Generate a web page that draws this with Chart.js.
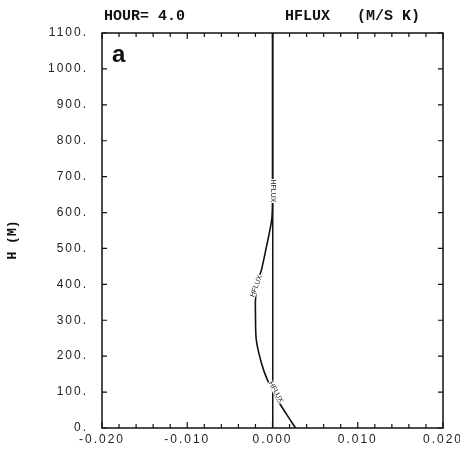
<!DOCTYPE html>
<html>
<head>
<meta charset="utf-8">
<script src="https://cdn.jsdelivr.net/npm/chart.js@4.4.1/dist/chart.umd.min.js"></script>
<style>
  html, body { margin: 0; padding: 0; background: #fff; }
  #wrap { width: 460px; height: 452px; position: relative; }
</style>
</head>
<body>
<div id="wrap"><canvas id="hflux"></canvas></div>
<script>
'use strict';
// profile of HFLUX against height
var heights = [0, 40, 78, 134, 181, 245, 320, 356, 404, 440, 500, 579, 627, 700, 800, 900, 1000, 1100];
var hflux = [0.0027, 0.0016, 0.0006, -0.0006, -0.0013, -0.0019, -0.0020, -0.0020, -0.0018, -0.0013, -0.00075, -0.0001, 0, 0, 0, 0, 0, 0];
var xTicks = [-0.020, -0.010, 0.000, 0.010, 0.020];
var yTicks = [0, 100, 200, 300, 400, 500, 600, 700, 800, 900, 1000, 1100];

var points = [];
for (var i = 0; i < heights.length; i++) {
    points.push({ x: hflux[i], y: heights[i] });
}

var frame = {
    id: 'frame',
    beforeDraw: function (chart) {
        chart.ctx.letterSpacing = '2px';
    },
    afterDatasetsDraw: function (chart) {
        var ctx = chart.ctx, a = chart.chartArea;
        var xs = chart.scales.x, ys = chart.scales.y;
        ctx.save();
        ctx.letterSpacing = '0px';
        ctx.strokeStyle = '#111';
        ctx.lineWidth = 1.5;
        ctx.strokeRect(a.left, a.top, a.right - a.left, a.bottom - a.top);

        // inward tick marks
        ctx.lineWidth = 1.2;
        ctx.beginPath();
        for (var k = -10; k <= 10; k++) {
            var px = xs.getPixelForValue(k * 0.002);
            var len = (k % 5 === 0) ? 6 : 4;
            ctx.moveTo(px, a.bottom); ctx.lineTo(px, a.bottom - len);
            ctx.moveTo(px, a.top); ctx.lineTo(px, a.top + len);
        }
        yTicks.forEach(function (v) {
            var py = ys.getPixelForValue(v);
            ctx.moveTo(a.left, py); ctx.lineTo(a.left + 5, py);
            ctx.moveTo(a.right, py); ctx.lineTo(a.right - 5, py);
        });
        ctx.stroke();

        // curve labels
        var labs = [[0.0, 660, Math.PI / 2], [-0.0019, 395, -1.2], [0.0004, 100, 1.05]];
        ctx.font = '7px "Liberation Sans"';
        ctx.textAlign = 'center';
        ctx.textBaseline = 'middle';
        labs.forEach(function (l) {
            ctx.save();
            ctx.translate(xs.getPixelForValue(l[0]), ys.getPixelForValue(l[1]));
            ctx.rotate(l[2]);
            ctx.fillStyle = '#fff';
            ctx.fillRect(-12, -3, 24, 6);
            ctx.fillStyle = '#222';
            ctx.fillText('HFLUX', 0, 0);
            ctx.restore();
        });

        // headings
        ctx.fillStyle = '#111';
        ctx.textAlign = 'left';
        ctx.textBaseline = 'alphabetic';
        ctx.font = 'bold 15px "Liberation Mono"';
        ctx.fillText('HOUR= 4.0', 104, 20);
        ctx.fillText('HFLUX   (M/S K)', 285, 20);
        ctx.font = 'bold 24px "Liberation Sans"';
        ctx.fillText('a', 112, 62);

        // axis title
        ctx.save();
        ctx.translate(13, 240);
        ctx.rotate(-Math.PI / 2);
        ctx.textAlign = 'center';
        ctx.textBaseline = 'middle';
        ctx.font = 'bold 13px "Liberation Mono"';
        ctx.fillText('H (M)', 0, 0);
        ctx.restore();
        ctx.restore();
    },
    afterDraw: function (chart) {
        chart.ctx.letterSpacing = '0px';
    }
};

new Chart(document.getElementById('hflux'), {
    type: 'line',
    data: {
        datasets: [{
            data: points,
            borderColor: '#111',
            borderWidth: 1.6,
            pointRadius: 0,
            tension: 0.3,
            fill: false
        }]
    },
    options: {
        responsive: true,
        maintainAspectRatio: false,
        animation: false,
        layout: { padding: { top: 33, right: 17, bottom: 0, left: 0 } },
        plugins: { legend: { display: false }, tooltip: { enabled: false } },
        scales: {
            x: {
                type: 'linear',
                min: -0.02,
                max: 0.02,
                afterBuildTicks: function (s) {
                    s.ticks = xTicks.map(function (v) { return { value: v }; });
                },
                afterFit: function (s) {
                    s.height = 24;
                    s.paddingLeft = 0;
                    s.paddingRight = 0;
                },
                ticks: {
                    color: '#222',
                    padding: 4,
                    maxRotation: 0,
                    font: { family: '"Liberation Sans"', size: 12 },
                    callback: function (v) { return v.toFixed(3); }
                },
                grid: {
                    drawTicks: false,
                    lineWidth: 1.5,
                    color: function (c) {
                        return c.tick && c.tick.value === 0 ? '#111' : 'rgba(0,0,0,0)';
                    }
                },
                border: { display: false }
            },
            y: {
                type: 'linear',
                min: 0,
                max: 1100,
                afterBuildTicks: function (s) {
                    s.ticks = yTicks.map(function (v) { return { value: v }; });
                },
                afterFit: function (s) {
                    s.width = 102;
                    s.paddingTop = 0;
                    s.paddingBottom = 0;
                },
                ticks: {
                    color: '#222',
                    padding: 14,
                    font: { family: '"Liberation Sans"', size: 12 },
                    callback: function (v) { return v + '.'; }
                },
                grid: { display: false, drawTicks: false },
                border: { display: false }
            }
        }
    },
    plugins: [frame]
});
</script>
</body>
</html>
